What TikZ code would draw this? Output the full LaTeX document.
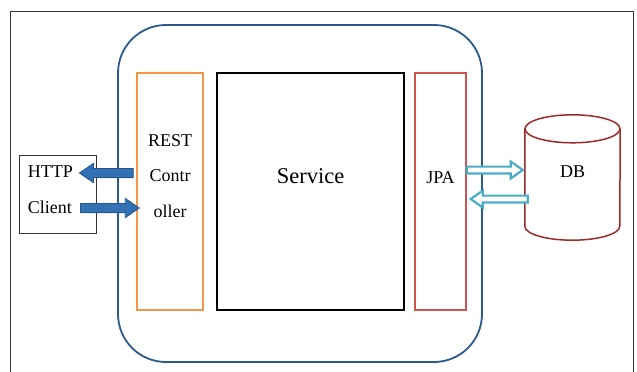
\documentclass[tikz,border=0pt]{standalone}
\usepackage{fontspec}
\setmainfont{Liberation Serif}
\usetikzlibrary{calc,positioning}
\definecolor{framegray}{HTML}{333333}
\definecolor{appblue}{HTML}{2A5A8E}
\definecolor{ctrlorange}{HTML}{F79646}
\definecolor{jpared}{HTML}{CF5550}
\definecolor{dbred}{HTML}{9E2B2B}
\definecolor{callblue}{HTML}{3271B4}
\definecolor{calledge}{HTML}{2A558C}
\definecolor{jdbccyan}{HTML}{4BACC6}

\begin{document}
\begin{tikzpicture}[
  x=1pt, y=-1pt,
  node distance=14pt,
  layer/.style={
    draw,
    line width=1.5pt,
    minimum height=237pt,
    inner sep=0pt
  },
  lbl/.style={
    font=\fontsize{18}{35.5}\selectfont,
    inner sep=0pt
  },
  % horizontal block arrow: shaft half width, head half width, head length
  blockarrow/.style n args={3}{
    to path={
      let \p1=(\tikztostart), \p2=(\tikztotarget),
          \p3=($(\tikztotarget)!#3!(\tikztostart)$) in
      (\x1,\y1+#1) -- (\x3,\y1+#1) -- (\x3,\y1+#2) -- (\x2,\y1)
      -- (\x3,\y1-#2) -- (\x3,\y1-#1) -- (\x1,\y1-#1) -- cycle
    }
  },
  callarrow/.style={draw=calledge, fill=callblue, line width=0.8pt,
    blockarrow={4.6pt}{9.6pt}{14pt}},
  jdbcarrow/.style={draw=jdbccyan, fill=white, line width=2.2pt,
    blockarrow={3.4pt}{8.4pt}{12pt}},
  drum/.style={draw=dbred, line width=1.5pt}
]
\useasboundingbox (0,0) rectangle (637,372);

% outer frame, open at the bottom
\draw[framegray, line width=0.8pt] (10,372) |- (633,11) -- (633,372);

% application container
\node[draw=appblue, line width=1.8pt, rounded corners=48pt,
  minimum width=364pt, minimum height=337pt] (app) at (300,193.5) {};

% layers
\node[layer, line width=2.4pt, minimum width=187pt] (service) at (310.5,191.5) {};
\node[layer, draw=ctrlorange, minimum width=66pt, left=12pt of service] (ctrl) {};
\node[layer, draw=jpared, minimum width=51pt, right=9pt of service] (jpa) {};

\node[lbl, font=\fontsize{22.5}{27}\selectfont] (servicetext)
  at ([yshift=15.5pt]service.center) {Service};
\node[lbl, align=center] (ctrltext)
  at ([yshift=15.5pt]ctrl.center) {REST\\Contr\\oller};
\node[lbl] (jpatext) at ([yshift=13.5pt]jpa.center) {JPA};

% client
\node[draw=framegray, line width=0.8pt, minimum width=77pt, minimum height=78pt,
  inner sep=0pt] (client) at (57.5,194) {};
\node[lbl, align=left, anchor=west] (clienttext)
  at ([xshift=9pt,yshift=4.5pt]client.west) {HTTP\\Client};

% database drum
\node[minimum width=95pt, minimum height=125pt, inner sep=0pt] (db) at (572.5,177.5) {};
\draw[drum] ([yshift=-14pt]db.north) ellipse [x radius=47.5pt, y radius=14pt];
\draw[drum] ([yshift=-14pt]db.north west) -- ([yshift=14pt]db.south west)
  arc[start angle=180, end angle=360, x radius=47.5pt, y radius=14pt]
  -- ([yshift=-14pt]db.north east);
\node[lbl] (dbtext) at ([yshift=5.5pt]db.center) {DB};

% arrow ends
\coordinate (resp0) at ([xshift=-3pt]ctrl.west |- 0,173);
\coordinate (resp1) at ([xshift=-17pt]client.east |- 0,173);
\coordinate (req0) at ([xshift=-16pt]client.east |- 0,208);
\coordinate (req1) at ([xshift=3pt]ctrl.west |- 0,208);
\coordinate (query0) at (jpa.east |- 0,170);
\coordinate (query1) at ([xshift=-2pt]db.west |- 0,170);
\coordinate (rows0) at ([xshift=3pt]db.west |- 0,199);
\coordinate (rows1) at ([xshift=4pt]jpa.east |- 0,199);

% request / response
\draw[callarrow] (resp0) to (resp1);
\draw[callarrow] (req0) to (req1);

% jpa <-> db
\draw[jdbcarrow] (query0) to (query1);
\draw[jdbcarrow] (rows0) to (rows1);

\end{tikzpicture}
\end{document}
